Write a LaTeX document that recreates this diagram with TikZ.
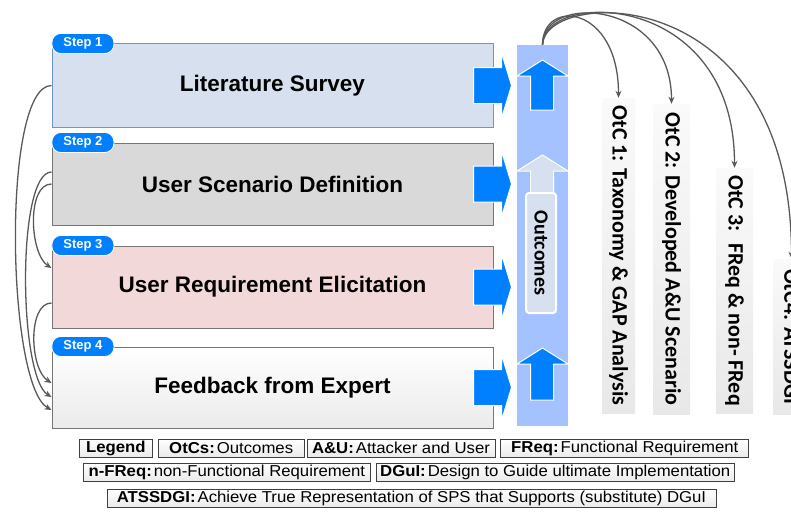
\documentclass[tikz,border=0pt]{standalone}
\usepackage{fontspec}
\setmainfont{Liberation Sans}
\newfontfamily\otcfont{Carlito}
\newfontfamily\legendfont[FakeStretch=1.06]{Liberation Sans}
\usetikzlibrary{calc,positioning,arrows.meta}

\definecolor{surveyfill}{RGB}{214,224,238}
\definecolor{surveyline}{RGB}{108,150,205}
\definecolor{scenariofill}{RGB}{217,217,217}
\definecolor{elicitfill}{RGB}{242,216,216}
\definecolor{boxline}{RGB}{118,118,118}
\definecolor{arrowblue}{RGB}{0,128,255}
\definecolor{columnblue}{RGB}{164,194,255}
\definecolor{linkgray}{RGB}{89,89,89}

\begin{document}
\begin{tikzpicture}[x=1pt, y=-1pt,
  stepbox/.style={draw=boxline, line width=1pt, minimum width=441pt, inner sep=0pt,
    font=\fontsize{22.5}{27}\selectfont\bfseries},
  steptag/.style={fill=arrowblue, draw=white, line width=0.8pt, rounded corners=9pt,
    minimum width=62pt, minimum height=20pt, inner sep=0pt, anchor=west,
    text=white, font=\fontsize{13}{15}\selectfont\bfseries},
  otcbox/.style={rotate=-90, inner sep=0pt, bottom color=black!9, top color=black!2,
    font=\otcfont\fontsize{22}{26}\selectfont\bfseries},
  link/.style={draw=linkgray, line width=1.3pt, -{Stealth[length=7pt,width=6pt]}},
  legbox/.style={draw=black!75, line width=0.8pt, top color=white, bottom color=black!8,
    minimum height=18pt, inner xsep=4pt, inner ysep=0pt,
    font=\legendfont\fontsize{15.8}{17}\selectfont}]
\useasboundingbox (0,0) rectangle (791,511);
\clip (0,0) rectangle (791,511);

% the four steps
\node [stepbox, fill=surveyfill, draw=surveyline, minimum height=83pt] (s1) at (272.5,85.5) {Literature Survey};
\node [stepbox, fill=scenariofill, minimum height=82pt] (s2) at (272.5,184) {User Scenario Definition};
\node [stepbox, fill=elicitfill, minimum height=82pt] (s3) at (272.5,287) {User Requirement Elicitation};
\node [stepbox, top color=white, bottom color=black!8, minimum height=81pt] (s4) at (272.5,387.5) {Feedback from Expert};

\node [steptag] (t1) at (s1.north west) {Step 1};
\node [steptag] (t2) at (s2.north west) {Step 2};
\node [steptag] (t3) at (s3.north west) {Step 3};
\node [steptag] (t4) at (s4.north west) {Step 4};

% block arrows into the outcome column
\foreach \s in {s1,s2,s3,s4}
  \draw [white, line width=1pt, fill=arrowblue] ($(\s.east)+(-20,-18)$) -- ++(28,0) -- ++(0,-15)
    -- ++(10,33) -- ++(-10,33) -- ++(0,-15) -- ++(-28,0) -- cycle;

% outcome column
\node [fill=columnblue, minimum width=51pt, minimum height=381pt, inner sep=0pt] (oc) at (542.5,235.5) {};
\foreach \tip/\bot/\col in {60/110/arrowblue, 155/205/surveyfill, 348/400/arrowblue}
  \draw [white, line width=1pt, fill=\col] (542.5,\tip) -- (568,\tip+16) -- (553.5,\tip+16)
    -- (553.5,\bot) -- (530.5,\bot) -- (530.5,\tip+16) -- (517,\tip+16) -- cycle;
\node [rotate=-90, fill=surveyfill, draw=white, line width=2pt, rounded corners=3pt,
  minimum width=120pt, minimum height=30pt, inner sep=0pt,
  font=\otcfont\fontsize{20}{24}\selectfont\bfseries] (ob) at (541,253) {Outcomes};

% outcomes
\node [otcbox, minimum width=315pt, minimum height=33pt] (o1) at (618.5,255.5) {OtC 1: Taxonomy \& GAP Analysis};
\node [otcbox, minimum width=310pt, minimum height=37pt] (o2) at (671.5,259) {OtC 2: Developed A\&U Scenario};
\node [otcbox, minimum width=245pt, minimum height=37pt] (o3) at (734.5,290.5) {OtC 3: \ FReq \& non- FReq};
\node [otcbox, minimum width=155pt, minimum height=37pt] (o4) at (791.5,336.5) {OtC4: ATSSDGI};

\draw [link] (oc.north) .. controls +(0,-47) and +(0,-93) .. (o1.west);
\draw [link] (oc.north) .. controls +(0,-52) and +(0,-104) .. (o2.west);
\draw [link] (oc.north) .. controls +(1,-55) and +(0,-178) .. (o3.west);
\draw [link] (oc.north) .. controls +(2,-57) and +(0,-279) .. (o4.west);

% feedback links on the left
\draw [link] (s1.west) .. controls +(-50,0) and +(-45,-25) .. ($(s4.west)+(0,22.5)$);
\draw [link] ($(s2.west)+(0,-12)$) .. controls +(-35,0) and +(-33,-20) .. ($(s4.west)+(0,9.5)$);
\draw [link] (s2.west) .. controls +(-25,0) and +(-22,-14) .. ($(s3.west)+(0,-19)$);
\draw [link] ($(s3.west)+(0,16)$) .. controls +(-24,0) and +(-22,-14) .. ($(s4.west)+(0,-4.5)$);

% legend
\node [legbox, anchor=west, minimum width=73pt] (lg) at (79,448) {\textbf{Legend}};
\node [legbox, right=5pt of lg, minimum width=146pt] (lotc) {\textbf{OtCs:}\hspace{2pt}Outcomes};
\node [legbox, right=2pt of lotc, minimum width=188pt] (lau) {\textbf{A\&U:}\hspace{2pt}Attacker and User};
\node [legbox, right=5pt of lau, minimum width=248pt] (lfr) {\textbf{FReq:}\hspace{2pt}Functional Requirement};
\node [legbox, anchor=west, minimum width=287pt] (lnf) at (83,472) {\textbf{n-FReq:}\hspace{2pt}non-Functional Requirement};
\node [legbox, right=5pt of lnf, minimum width=358pt] (ldg) {\textbf{DGuI:}\hspace{2pt}Design to Guide ultimate Implementation};
\node [legbox, minimum width=609pt] (lat) at (411.5,498) {\textbf{ATSSDGI:}\hspace{2pt}Achieve True Representation of SPS that Supports (substitute) DGuI};
\end{tikzpicture}
\end{document}
